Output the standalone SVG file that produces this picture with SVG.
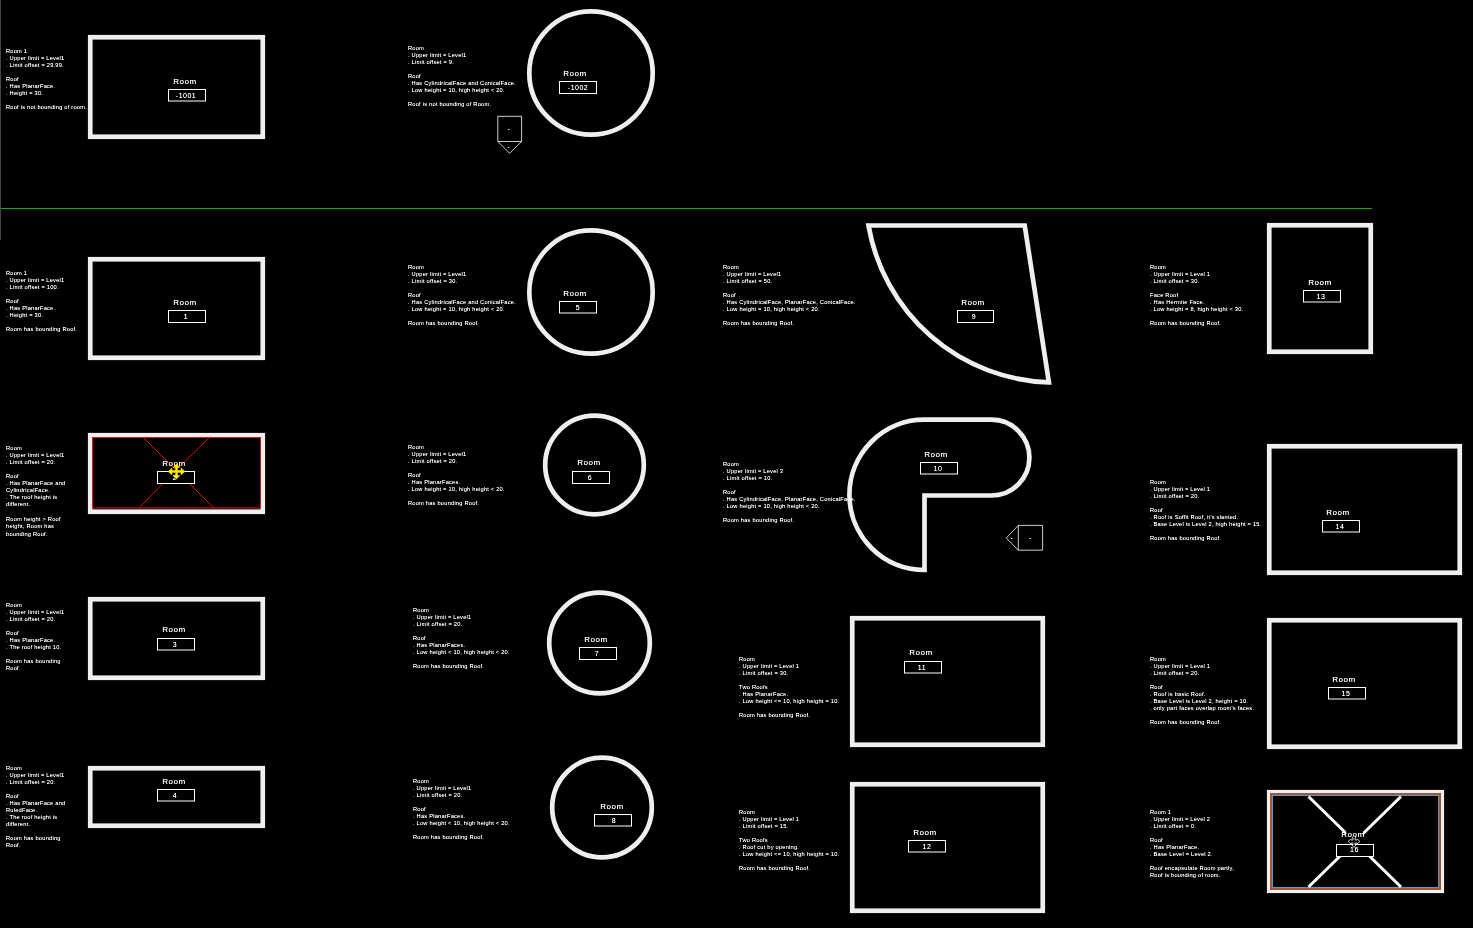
<svg xmlns="http://www.w3.org/2000/svg" width="1473" height="928" viewBox="0 0 1473 928">
<style>
text{font-family:"Liberation Sans",Arial,sans-serif;fill:#fff;filter:url(#gray)}
.n{font-size:5.7px;letter-spacing:.22px}
.l{font-size:8px;letter-spacing:.5px;text-anchor:middle}
.v{font-size:7px;letter-spacing:.5px;text-anchor:middle}
.w{fill:none;stroke:#efefef;stroke-width:4.7;stroke-linejoin:miter}
.t{fill:#000;stroke:#fff;stroke-width:1}
.h{fill:none;stroke:#fff;stroke-width:.8}
</style>
<defs><filter id="gray" x="-5%" y="-20%" width="110%" height="140%" color-interpolation-filters="sRGB"><feComponentTransfer><feFuncA type="linear" slope="1.25"/></feComponentTransfer></filter></defs>
<rect width="1473" height="928" fill="#000"/>
<rect x="0" y="0" width="1" height="240" fill="#484848"/>
<rect id="level-line" x="1" y="208" width="1371" height="1" fill="#00b400"/>
<g id="connectors"/>

<g id="room-1001"><rect class="w" x="90.25" y="37.25" width="172.5" height="99.5"/><text class="n" x="6" y="52.5">Room 1<tspan x="6" dy="7">. Upper limit = Level1</tspan><tspan x="6" dy="7">. Limit offset = 29.99.</tspan><tspan x="6" dy="14">Roof</tspan><tspan x="6" dy="7">. Has PlanarFace.</tspan><tspan x="6" dy="7">. Height = 30.</tspan><tspan x="6" dy="14">Roof is not bounding of room.</tspan></text><text class="l" x="185" y="84">Room</text><rect class="t" x="168.5" y="89.5" width="37" height="11.5"/><text class="v" x="186" y="97.5">-1001</text></g>

<g id="room-1002"><circle class="w" cx="591" cy="73" r="61.7"/><text class="n" x="408" y="50">Room<tspan x="408" dy="7">. Upper limit = Level1</tspan><tspan x="408" dy="7">. Limit offset = 9.</tspan><tspan x="408" dy="14">Roof</tspan><tspan x="408" dy="7">. Has CylindricalFace and ConicalFace.</tspan><tspan x="408" dy="7">. Low height = 10, high height &lt; 20.</tspan><tspan x="408" dy="14">Roof is not bounding of Room.</tspan></text><text class="l" x="575" y="76">Room</text><rect class="t" x="559.5" y="81.5" width="37" height="12"/><text class="v" x="578" y="90">-1002</text></g>

<g id="tag-down"><path class="h" d="M497.8 116.3H521.6V141.5L509.7 153.3 497.8 141.5Z M497.8 141.5H521.6"/><text class="v" x="509" y="131">-</text><text class="v" x="509" y="149">-</text></g>

<g id="room-1"><rect class="w" x="90.25" y="259.25" width="172.5" height="98.5"/><text class="n" x="6" y="275">Room 1<tspan x="6" dy="7">. Upper limit = Level1</tspan><tspan x="6" dy="7">. Limit offset = 100.</tspan><tspan x="6" dy="14">Roof</tspan><tspan x="6" dy="7">. Has PlanarFace.</tspan><tspan x="6" dy="7">. Height = 30.</tspan><tspan x="6" dy="14">Room has bounding Roof.</tspan></text><text class="l" x="185" y="305">Room</text><rect class="t" x="168.5" y="310.5" width="37" height="12"/><text class="v" x="186" y="319">1</text></g>

<g id="room-5"><circle class="w" cx="591" cy="292" r="61.7"/><text class="n" x="408" y="269">Room<tspan x="408" dy="7">. Upper limit = Level1</tspan><tspan x="408" dy="7">. Limit offset = 30.</tspan><tspan x="408" dy="14">Roof</tspan><tspan x="408" dy="7">. Has CylindricalFace and ConicalFace.</tspan><tspan x="408" dy="7">. Low height = 10, high height &lt; 20.</tspan><tspan x="408" dy="14">Room has bounding Roof.</tspan></text><text class="l" x="575" y="296">Room</text><rect class="t" x="559.5" y="301.5" width="37" height="11.5"/><text class="v" x="578" y="309.5">5</text></g>

<g id="room-9"><path class="w" d="M868.5 225.5H1024.7L1048.9 382.4A189 189 0 0 1 868.5 225.5Z"/><text class="n" x="723" y="269">Room<tspan x="723" dy="7">. Upper limit = Level1</tspan><tspan x="723" dy="7">. Limit offset = 50.</tspan><tspan x="723" dy="14">Roof</tspan><tspan x="723" dy="7">. Has CylindricalFace, PlanarFace, ConicalFace.</tspan><tspan x="723" dy="7">. Low height = 10, high height &lt; 20.</tspan><tspan x="723" dy="14">Room has bounding Roof.</tspan></text><text class="l" x="973" y="305">Room</text><rect class="t" x="957.5" y="310.5" width="36" height="12"/><text class="v" x="974" y="319">9</text></g>

<g id="room-13"><rect class="w" x="1269.25" y="225.25" width="101.5" height="126.5"/><text class="n" x="1150" y="269">Room<tspan x="1150" dy="7">. Upper limit = Level 1</tspan><tspan x="1150" dy="7">. Limit offset = 30.</tspan><tspan x="1150" dy="14">Face Roof</tspan><tspan x="1150" dy="7">. Has Hermite Face.</tspan><tspan x="1150" dy="7">. Low height = 8, high height &lt; 30.</tspan><tspan x="1150" dy="14">Room has bounding Roof.</tspan></text><text class="l" x="1320" y="285">Room</text><rect class="t" x="1303.5" y="290.5" width="37" height="11.5"/><text class="v" x="1321" y="298.5">13</text></g>

<g id="room-2"><rect class="w" x="90.25" y="435.25" width="172.5" height="76.5"/><rect x="92.5" y="437.5" width="168" height="70.5" fill="none" stroke="#ee1111" stroke-width="1"/><path d="M144 438 176 470 214 508M209 438 176 470 139 508" fill="none" stroke="#ee1111" stroke-width=".9"/><text class="n" x="6" y="450">Room<tspan x="6" dy="7">. Upper limit = Level1</tspan><tspan x="6" dy="7">. Limit offset = 20.</tspan><tspan x="6" dy="14">Roof</tspan><tspan x="6" dy="7">. Has PlanarFace and</tspan><tspan x="6" dy="7">CylindricalFace.</tspan><tspan x="6" dy="7">. The roof height is</tspan><tspan x="6" dy="7">different.</tspan><tspan x="6" dy="14.5">Room height &gt; Roof</tspan><tspan x="6" dy="7.5">height, Room has</tspan><tspan x="6" dy="7.5">bounding Roof.</tspan></text><rect class="t" x="157.5" y="471.5" width="37" height="12"/><text class="v" x="175" y="480">2</text><text class="l" x="174" y="465.5">Room</text><path d="M176.5 464 180 467.5H177.5V470.5H181V468L185 471.5 181 475V472.500H177.5V475.500H180L176.5 479 173 475.500H175.500V472.500H172V475L168 471.500 172 468V470.500H175.500V467.500H173Z" fill="#ffee00" stroke="#ffee00" stroke-width=".4"/></g>

<g id="room-6"><circle class="w" cx="594.500" cy="465" r="49.300"/><text class="n" x="408" y="449">Room<tspan x="408" dy="7">. Upper limit = Level1</tspan><tspan x="408" dy="7">. Limit offset = 20.</tspan><tspan x="408" dy="14">Roof</tspan><tspan x="408" dy="7">. Has PlanarFaces.</tspan><tspan x="408" dy="7">. Low height = 10, high height &lt; 20.</tspan><tspan x="408" dy="14">Room has bounding Roof.</tspan></text><text class="l" x="589" y="465">Room</text><rect class="t" x="572.500" y="471.500" width="37" height="12"/><text class="v" x="590" y="480">6</text></g>

<g id="room-10"><path class="w" d="M924.500 570A75.150 75.150 0 0 1 924.500 419.700H991.500A37.900 37.900 0 0 1 991.500 495.500H924.500Z"/><text class="n" x="723" y="466">Room<tspan x="723" dy="7">. Upper limit = Level 3</tspan><tspan x="723" dy="7">. Limit offset = 10.</tspan><tspan x="723" dy="14">Roof</tspan><tspan x="723" dy="7">. Has CylindricalFace, PlanarFace, ConicalFace.</tspan><tspan x="723" dy="7">. Low height = 10, high height &lt; 20.</tspan><tspan x="723" dy="14">Room has bounding Roof.</tspan></text><text class="l" x="936" y="457">Room</text><rect class="t" x="920.500" y="462.500" width="37" height="11.500"/><text class="v" x="938" y="470.500">10</text></g>

<g id="tag-left"><path class="h" d="M1018.300 525.400H1042.600V550.200H1018.300L1006.300 538 1018.300 525.400Z M1018.300 525.400V550.200"/><text class="v" x="1030.500" y="540">-</text><text class="v" x="1012" y="540">-</text></g>

<g id="room-14"><rect class="w" x="1269.250" y="446.250" width="190.500" height="126.500"/><text class="n" x="1150" y="484">Room<tspan x="1150" dy="7">. Upper limit = Level 1</tspan><tspan x="1150" dy="7">. Limit offset = 20.</tspan><tspan x="1150" dy="14">Roof</tspan><tspan x="1150" dy="7">. Roof is Soffit Roof, it's slanted.</tspan><tspan x="1150" dy="7">. Base Level is Level 2, high height = 15.</tspan><tspan x="1150" dy="14">Room has bounding Roof.</tspan></text><text class="l" x="1338" y="515">Room</text><rect class="t" x="1322.500" y="520.500" width="37" height="11.500"/><text class="v" x="1340" y="528.500">14</text></g>

<g id="room-3"><rect class="w" x="90.250" y="599.250" width="172.500" height="78.500"/><text class="n" x="6" y="607">Room<tspan x="6" dy="7">. Upper limit = Level1</tspan><tspan x="6" dy="7">. Limit offset = 20.</tspan><tspan x="6" dy="14">Roof</tspan><tspan x="6" dy="7">. Has PlanarFace.</tspan><tspan x="6" dy="7">. The roof height 10.</tspan><tspan x="6" dy="14">Room has bounding</tspan><tspan x="6" dy="7">Roof.</tspan></text><text class="l" x="174" y="632">Room</text><rect class="t" x="157.500" y="638.500" width="37" height="11.500"/><text class="v" x="175" y="646.500">3</text></g>

<g id="room-7"><circle class="w" cx="599.500" cy="643" r="50.300"/><text class="n" x="413" y="612">Room<tspan x="413" dy="7">. Upper limit = Level1</tspan><tspan x="413" dy="7">. Limit offset = 20.</tspan><tspan x="413" dy="14">Roof</tspan><tspan x="413" dy="7">. Has PlanarFaces.</tspan><tspan x="413" dy="7">. Low height &lt; 10, high height &lt; 20.</tspan><tspan x="413" dy="14">Room has bounding Roof.</tspan></text><text class="l" x="596" y="642">Room</text><rect class="t" x="579.500" y="647.500" width="37" height="12"/><text class="v" x="597" y="656">7</text></g>

<g id="room-11"><rect class="w" x="852.250" y="618.250" width="190.500" height="126.500"/><text class="n" x="739" y="661">Room<tspan x="739" dy="7">. Upper limit = Level 1</tspan><tspan x="739" dy="7">. Limit offset = 30.</tspan><tspan x="739" dy="14">Two Roofs</tspan><tspan x="739" dy="7">. Has PlanarFace.</tspan><tspan x="739" dy="7">. Low height &lt;= 10, high height = 10.</tspan><tspan x="739" dy="14">Room has bounding Roof.</tspan></text><text class="l" x="921" y="655">Room</text><rect class="t" x="904.500" y="661.500" width="37" height="11.500"/><text class="v" x="922" y="669.500">11</text></g>

<g id="room-15"><rect class="w" x="1269.250" y="620.250" width="190.500" height="126.500"/><text class="n" x="1150" y="661">Room<tspan x="1150" dy="7">. Upper limit = Level 1</tspan><tspan x="1150" dy="7">. Limit offset = 20.</tspan><tspan x="1150" dy="14">Roof</tspan><tspan x="1150" dy="7">. Roof is basic Roof.</tspan><tspan x="1150" dy="7">. Base Level is Level 2, height = 10.</tspan><tspan x="1150" dy="7">. only part faces overlap room's faces.</tspan><tspan x="1150" dy="14">Room has bounding Roof.</tspan></text><text class="l" x="1344" y="682">Room</text><rect class="t" x="1328.500" y="687.500" width="37" height="11.500"/><text class="v" x="1346" y="695.500">15</text></g>

<g id="room-4"><rect class="w" x="90.250" y="768.250" width="172.500" height="57.500"/><text class="n" x="6" y="770">Room<tspan x="6" dy="7">. Upper limit = Level1</tspan><tspan x="6" dy="7">. Limit offset = 20.</tspan><tspan x="6" dy="14">Roof</tspan><tspan x="6" dy="7">. Has PlanarFace and</tspan><tspan x="6" dy="7">RuledFace.</tspan><tspan x="6" dy="7">. The roof height is</tspan><tspan x="6" dy="7">different.</tspan><tspan x="6" dy="14">Room has bounding</tspan><tspan x="6" dy="7">Roof.</tspan></text><text class="l" x="174" y="784">Room</text><rect class="t" x="157.500" y="789.500" width="37" height="11.500"/><text class="v" x="175" y="797.500">4</text></g>

<g id="room-8"><circle class="w" cx="602" cy="807.500" r="49.800"/><text class="n" x="413" y="783">Room<tspan x="413" dy="7">. Upper limit = Level1</tspan><tspan x="413" dy="7">. Limit offset = 20.</tspan><tspan x="413" dy="14">Roof</tspan><tspan x="413" dy="7">. Has PlanarFaces.</tspan><tspan x="413" dy="7">. Low height &lt; 10, high height &lt; 20.</tspan><tspan x="413" dy="14">Room has bounding Roof.</tspan></text><text class="l" x="612" y="809">Room</text><rect class="t" x="594.500" y="814.500" width="37" height="11.500"/><text class="v" x="614" y="822.500">8</text></g>

<g id="room-12"><rect class="w" x="852.250" y="784.250" width="190.500" height="126.500"/><text class="n" x="739" y="814">Room<tspan x="739" dy="7">. Upper limit = Level 1</tspan><tspan x="739" dy="7">. Limit offset = 15.</tspan><tspan x="739" dy="14">Two Roofs</tspan><tspan x="739" dy="7">. Roof cut by opening.</tspan><tspan x="739" dy="7">. Low height &lt;= 10, high height = 10.</tspan><tspan x="739" dy="14">Room has bounding Roof.</tspan></text><text class="l" x="925" y="835">Room</text><rect class="t" x="908.500" y="840.500" width="37" height="11.500"/><text class="v" x="927" y="848.500">12</text></g>

<g id="room-16"><rect class="w" x="1269.250" y="792.250" width="172.500" height="98.500"/><rect x="1271" y="794" width="169" height="95" fill="none" stroke="#b5502f" stroke-width="2"/><rect x="1272.500" y="795.500" width="166" height="92" fill="none" stroke="#46a6c8" stroke-width="1"/><path d="M1308.500 796.500 1401 887M1401 796.500 1308.500 887" fill="none" stroke="#fff" stroke-width="3"/><text class="n" x="1150" y="814">Room 1<tspan x="1150" dy="7">. Upper limit = Level 2</tspan><tspan x="1150" dy="7">. Limit offset = 0.</tspan><tspan x="1150" dy="14">Roof</tspan><tspan x="1150" dy="7">. Has PlanarFace.</tspan><tspan x="1150" dy="7">. Base Level = Level 2.</tspan><tspan x="1150" dy="14">Roof encapsulate Room partly,</tspan><tspan x="1150" dy="7">Roof is bounding of room.</tspan></text><path d="M1346 831H1363V844H1346Z" fill="#000"/><rect class="t" x="1336.500" y="844.500" width="37" height="12"/><text class="v" x="1354.500" y="851.500">16</text><text class="l" x="1353" y="837">Room</text><path d="M1354 835.500 1356 838H1355V840H1357V839L1360 841.500 1357 844V843H1355V845H1356L1354 847.500 1352 845H1353V843H1351V844L1348 841.500 1351 839V840H1353V838H1352Z" fill="#000" stroke="#fff" stroke-width=".7"/></g>
</svg>
